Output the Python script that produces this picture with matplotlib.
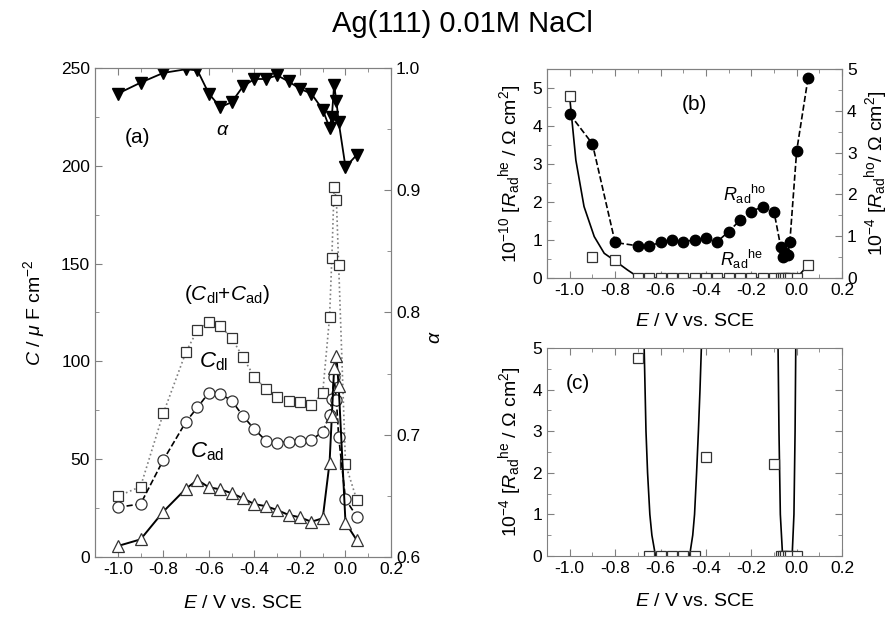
import matplotlib
matplotlib.use("Agg")
import matplotlib.pyplot as plt
from matplotlib.ticker import MultipleLocator, FormatStrFormatter

plt.rcParams['font.family'] = ['Liberation Sans', 'DejaVu Sans']
plt.rcParams['mathtext.fontset'] = 'custom'
plt.rcParams['mathtext.rm'] = 'Liberation Sans'
plt.rcParams['mathtext.it'] = 'Liberation Sans:italic'
plt.rcParams['mathtext.bf'] = 'Liberation Sans:bold'
plt.rcParams['axes.unicode_minus'] = False

# ---- panel (a): capacitances and alpha
E_a = [-1.0, -0.9, -0.8, -0.7, -0.65, -0.6, -0.55, -0.5, -0.45, -0.4, -0.35, -0.3,
       -0.25, -0.2, -0.15, -0.1, -0.07, -0.06, -0.05, -0.04, -0.03, 0.0, 0.05]
C_tot = [31, 36, 73.5, 105, 116, 120, 118, 112, 102, 92, 86, 82,
         80, 79, 77.5, 84, 122.5, 152.7, 189, 182.5, 149.3, 47.5, 29]
C_dl = [25.4, 27.1, 49.6, 69.2, 76.5, 84, 83.3, 80, 72, 65.3, 59.5, 58.4,
        59, 59.5, 59.8, 64, 72.6, 80.6, 91.9, 80.3, 61.5, 29.5, 20.6]
C_ad = [5.6, 9, 23.2, 35, 39.4, 35.6, 34.6, 32.6, 30, 27, 26, 24,
        21.5, 20.3, 18, 19.8, 48.2, 72, 96.5, 102.8, 87.4, 17.5, 8.5]
alpha = [0.979, 0.988, 0.996, 0.999, 0.998, 0.979, 0.968, 0.972, 0.985, 0.991, 0.991, 0.994,
         0.989, 0.983, 0.979, 0.966, 0.951, 0.960, 0.986, 0.973, 0.956, 0.919, 0.929]

# ---- panel (b): adsorption resistances
E_b = [-1.0, -0.9, -0.8, -0.7, -0.65, -0.6, -0.55, -0.5, -0.45, -0.4, -0.35, -0.3,
       -0.25, -0.2, -0.15, -0.1, -0.07, -0.06, -0.05, -0.04, -0.03, 0.0, 0.05]
R_ho = [3.92, 3.21, 0.85, 0.77, 0.77, 0.85, 0.91, 0.87, 0.91, 0.95, 0.87, 1.11,
        1.38, 1.59, 1.71, 1.59, 0.74, 0.51, 0.61, 0.55, 0.87, 3.04, 4.78]
R_he = [4.8, 0.56, 0.47, 0, 0, 0, 0, 0, 0, 0, 0, 0,
        0, 0, 0, 0, 0, 0, 0, 0, 0, 0, 0.34]
E_fit_b = [-1.0, -0.973, -0.937, -0.892, -0.848, -0.8, -0.745, -0.7, -0.68, 0.0, 0.05]
R_fit_b = [4.75, 3.1, 1.88, 1.09, 0.65, 0.45, 0.21, 0.03, 0.0, 0.0, 0.34]

# ---- panel (c): zoom on R_ad^he
E_c = [-0.7, -0.65, -0.6, -0.55, -0.5, -0.45, -0.4, -0.1, -0.07, -0.06, -0.05, -0.04, -0.03, 0.0]
R_c = [4.75, 0, 0, 0, 0, 0, 2.38, 2.2, 0, 0, 0, 0, 0, 0]
E_fit_c1 = [-0.672, -0.668, -0.664, -0.657, -0.647, -0.638, -0.622, -0.472, -0.458, -0.45, -0.441, -0.433, -0.426, -0.42]
R_fit_c1 = [5, 4, 3, 2, 1, 0.5, 0, 0, 0.5, 1, 2, 3, 4, 5]
E_fit_c2 = [-0.082, -0.078, -0.072, -0.062, -0.02, -0.012, -0.007, -0.004]
R_fit_c2 = [5, 3, 1, 0, 0, 1, 3, 5]

grey = '#808080'
edge = '#333333'
tick_fs = 12.5
lab_fs = 14


def style(ax, right=True):
    for s in ax.spines.values():
        s.set_color(grey)
    ax.tick_params(which='both', direction='in', color=grey, labelcolor='black',
                   labelsize=tick_fs, top=True, right=right)
    ax.tick_params(which='major', length=5)
    ax.tick_params(which='minor', length=3)
    ax.xaxis.set_major_locator(MultipleLocator(0.2))
    ax.xaxis.set_minor_locator(MultipleLocator(0.1))
    ax.xaxis.set_major_formatter(FormatStrFormatter('%.1f'))
    ax.set_xlim(-1.1, 0.2)


fig = plt.figure(figsize=(8.94, 6.21), dpi=100)
fig.text(0.517, 0.962, 'Ag(111) 0.01M NaCl', ha='center', va='center', fontsize=21)

# (a)
ax = fig.add_axes([0.1063, 0.1031, 0.3311, 0.7874])
ax.plot(E_a, C_tot, ls=':', color=grey, lw=1.2, marker='s', ms=7, mfc='white', mec=edge, mew=0.9)
ax.plot(E_a, C_dl, ls='--', color='black', lw=1.2, marker='o', ms=8, mfc='white', mec=edge, mew=0.9)
ax.plot(E_a, C_ad, ls='-', color='black', lw=1.4, marker='^', ms=8.5, mfc='white', mec=edge, mew=0.9)
ax.set_ylim(0, 250)
ax.yaxis.set_major_locator(MultipleLocator(50))
ax.yaxis.set_minor_locator(MultipleLocator(25))
style(ax, right=False)
ax.set_xlabel('$E$ / V vs. SCE', fontsize=lab_fs, labelpad=13)
ax.set_ylabel(r'$C$ / $\mu$ F cm$^{-2}$', fontsize=lab_fs, labelpad=10)
ax.text(0.142, 0.857, '(a)', transform=ax.transAxes, fontsize=15, ha='center', va='center')
ax.text(0.432, 0.873, r'$\alpha$', transform=ax.transAxes, fontsize=14, ha='center', va='center')
ax.text(0.446, 0.536, r'($C_{\rm dl}$+$C_{\rm ad}$)', transform=ax.transAxes, fontsize=15, ha='center', va='center')
ax.text(0.40, 0.40, r'$C_{\rm dl}$', transform=ax.transAxes, fontsize=16, ha='center', va='center')
ax.text(0.38, 0.215, r'$C_{\rm ad}$', transform=ax.transAxes, fontsize=16, ha='center', va='center')

axr = ax.twinx()
axr.plot(E_a, alpha, ls='-', color='black', lw=1.3, marker='v', ms=8, mfc='black', mec='black')
axr.set_ylim(0.6, 1.0)
axr.yaxis.set_major_locator(MultipleLocator(0.1))
axr.yaxis.set_minor_locator(MultipleLocator(0.05))
axr.yaxis.set_major_formatter(FormatStrFormatter('%.1f'))
for s in axr.spines.values():
    s.set_color(grey)
axr.tick_params(which='both', direction='in', color=grey, labelsize=tick_fs)
axr.tick_params(which='major', length=5)
axr.tick_params(which='minor', length=3)
axr.set_ylabel(r'$\alpha$', fontsize=lab_fs)
axr.yaxis.set_label_coords(1.12, 0.45)

# (b)
bx = fig.add_axes([0.6119, 0.5523, 0.330, 0.3366])
bx.plot(E_fit_b, R_fit_b, ls='-', color='black', lw=1.2)
bx.plot(E_b, R_he, ls='none', marker='s', ms=7, mfc='white', mec=edge, mew=0.9)
bx.set_ylim(0, 5.5)
bx.yaxis.set_major_locator(MultipleLocator(1))
bx.yaxis.set_minor_locator(MultipleLocator(0.5))
style(bx, right=False)
bx.set_xlabel('$E$ / V vs. SCE', fontsize=lab_fs, labelpad=11)
bx.set_ylabel(r'10$^{-10}$ [$R_{\rm ad}{}^{\rm he}$ / $\Omega$ cm$^2$]', fontsize=lab_fs, labelpad=6)
bx.text(0.498, 0.828, '(b)', transform=bx.transAxes, fontsize=15, ha='center', va='center')
bx.text(0.67, 0.40, r'$R_{\rm ad}{}^{\rm ho}$', transform=bx.transAxes, fontsize=13, ha='center', va='center')
bx.text(0.66, 0.09, r'$R_{\rm ad}{}^{\rm he}$', transform=bx.transAxes, fontsize=13, ha='center', va='center')

bxr = bx.twinx()
bxr.plot(E_b, R_ho, ls='--', color='black', lw=1.2, marker='o', ms=7.5, mfc='black', mec='black')
bxr.set_ylim(0, 5)
bxr.yaxis.set_major_locator(MultipleLocator(1))
bxr.yaxis.set_minor_locator(MultipleLocator(0.5))
for s in bxr.spines.values():
    s.set_color(grey)
bxr.tick_params(which='both', direction='in', color=grey, labelsize=tick_fs)
bxr.tick_params(which='major', length=5)
bxr.tick_params(which='minor', length=3)
bxr.set_ylabel(r'10$^{-4}$ [$R_{\rm ad}{}^{\rm ho}$/ $\Omega$ cm$^2$]', fontsize=lab_fs, rotation=90, labelpad=4)

# (c)
cx = fig.add_axes([0.6119, 0.1047, 0.330, 0.3349])
cx.plot(E_fit_c1, R_fit_c1, ls='-', color='black', lw=1.2)
cx.plot(E_fit_c2, R_fit_c2, ls='-', color='black', lw=1.2)
cx.plot(E_c, R_c, ls='none', marker='s', ms=7, mfc='white', mec=edge, mew=0.9)
cx.set_ylim(0, 5)
cx.yaxis.set_major_locator(MultipleLocator(1))
cx.yaxis.set_minor_locator(MultipleLocator(0.5))
style(cx, right=True)
cx.set_xlabel('$E$ / V vs. SCE', fontsize=lab_fs, labelpad=12)
cx.set_ylabel(r'10$^{-4}$ [$R_{\rm ad}{}^{\rm he}$ / $\Omega$ cm$^2$]', fontsize=lab_fs, labelpad=6)
cx.text(0.105, 0.83, '(c)', transform=cx.transAxes, fontsize=15, ha='center', va='center')

fig.savefig('out.png', dpi=100)
